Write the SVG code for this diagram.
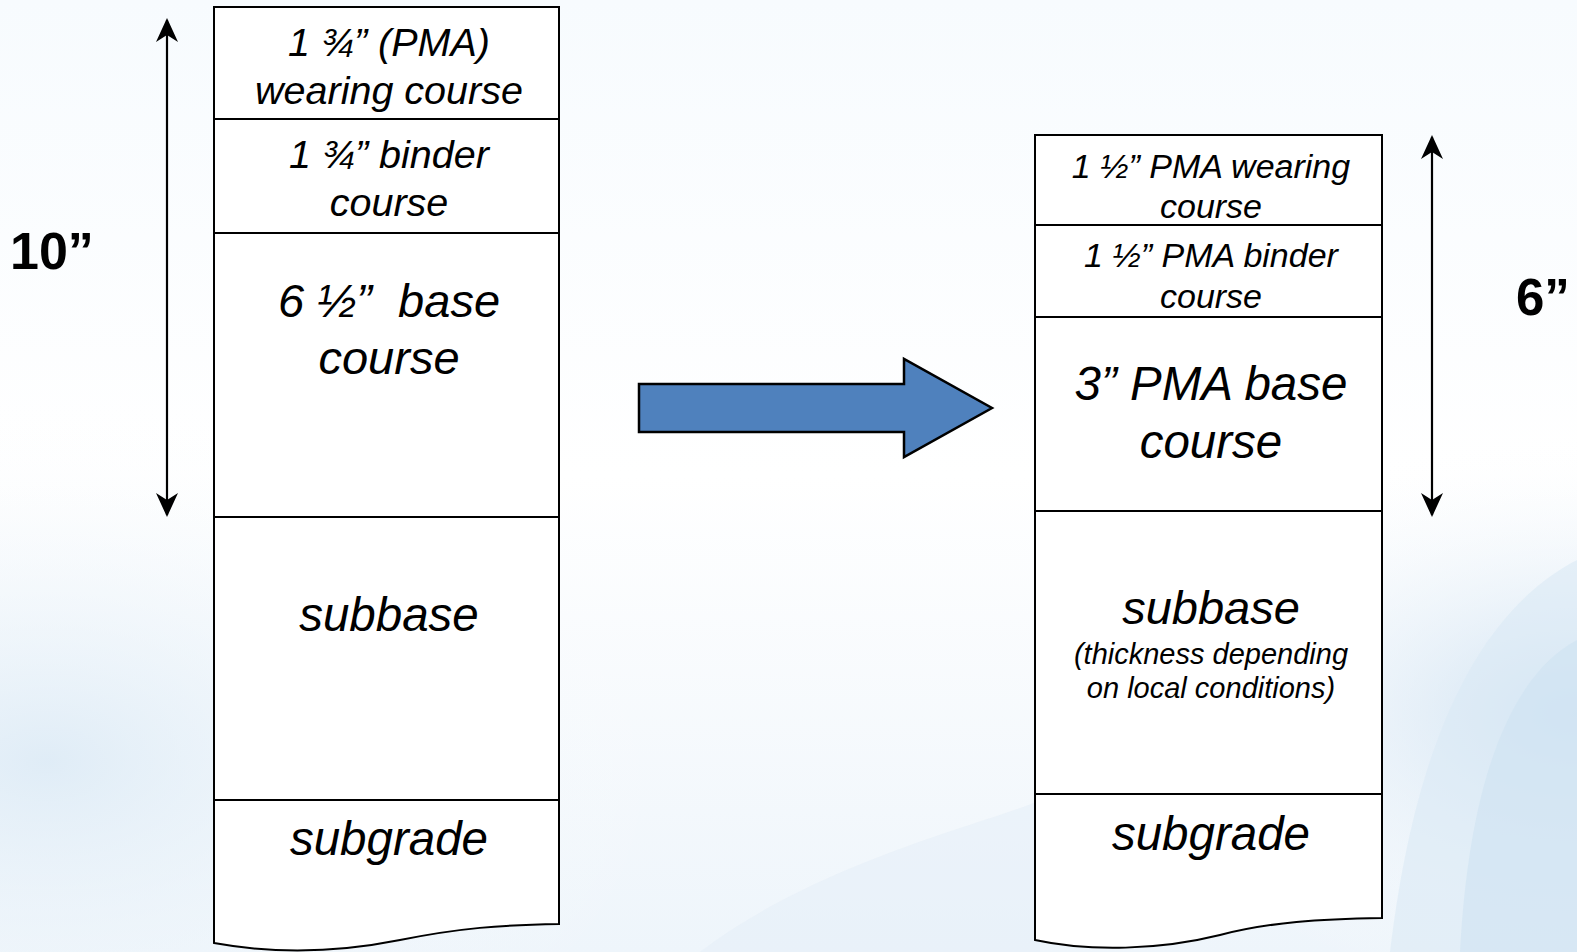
<svg xmlns="http://www.w3.org/2000/svg" width="1577" height="952" viewBox="0 0 1577 952">
<defs>
<style>
.col{fill:#fff;stroke:#000;stroke-width:2}
.div{stroke:#000;stroke-width:2.2;fill:none}
.t{font-family:"Liberation Sans",Arial,sans-serif;font-style:italic;fill:#000;text-anchor:middle}
.b{font-family:"Liberation Sans",Arial,sans-serif;font-weight:bold;fill:#000}
.dim{stroke:#000;stroke-width:2.2;fill:none}
</style>
<marker id="ah" viewBox="0 0 24 22" refX="22" refY="11" markerWidth="24" markerHeight="22" markerUnits="userSpaceOnUse" orient="auto-start-reverse">
<path d="M0,0 L24,11 L0,22 L7,11 Z" fill="#000"/>
</marker>
<linearGradient id="bg" x1="0" y1="0" x2="0" y2="1">
<stop offset="0" stop-color="#f7fbfe"/>
<stop offset="0.5" stop-color="#ffffff"/>
<stop offset="1" stop-color="#eef5fb"/>
</linearGradient>
<radialGradient id="bl" cx="0.03" cy="0.8" r="0.4">
<stop offset="0" stop-color="#dae9f5" stop-opacity="0.8"/>
<stop offset="1" stop-color="#ffffff" stop-opacity="0"/>
</radialGradient>
<radialGradient id="br" cx="1" cy="0.75" r="0.3">
<stop offset="0" stop-color="#c9def0" stop-opacity="0.9"/>
<stop offset="1" stop-color="#ffffff" stop-opacity="0"/>
</radialGradient>
</defs>
<rect width="1577" height="952" fill="url(#bg)"/>
<rect width="1577" height="952" fill="url(#bl)"/>
<rect width="1577" height="952" fill="url(#br)"/>
<path d="M1577,560 C1500,600 1420,700 1390,952 L1577,952 Z" fill="#dbe9f5" opacity="0.6"/>
<path d="M1577,640 C1520,670 1470,760 1460,952 L1577,952 Z" fill="#cfe2f2" opacity="0.6"/>
<path d="M700,952 C820,860 1000,820 1040,800 L1040,952 Z" fill="#e3eef8" opacity="0.5"/>

<g id="left-column">
<path class="col" d="M214,7 L559,7 L559,924 C500,925 460,928 400,940 C340,952 280,955 214,943 Z"/>
<line class="div" x1="214" y1="119" x2="559" y2="119"/>
<line class="div" x1="214" y1="233" x2="559" y2="233"/>
<line class="div" x1="214" y1="517" x2="559" y2="517"/>
<line class="div" x1="214" y1="800" x2="559" y2="800"/>
</g>
<g id="left-wearing"><text class="t" font-size="39.5" x="389" y="56">1 ¾” (PMA)</text><text class="t" font-size="39.5" x="389" y="104">wearing course</text></g>
<g id="left-binder"><text class="t" font-size="39.5" x="389" y="168">1 ¾” binder</text><text class="t" font-size="39.5" x="389" y="216">course</text></g>
<g id="left-base"><text class="t" font-size="47" x="389" y="317" xml:space="preserve">6 ½”  base</text><text class="t" font-size="47" x="389" y="374">course</text></g>
<g id="left-subbase"><text class="t" font-size="47.5" x="389" y="631">subbase</text></g>
<g id="left-subgrade"><text class="t" font-size="47.5" x="389" y="855">subgrade</text></g>

<g id="right-column">
<path class="col" d="M1035,135 L1382,135 L1382,918 C1320,919 1270,922 1220,935 C1160,950 1090,952 1035,940 Z"/>
<line class="div" x1="1035" y1="225" x2="1382" y2="225"/>
<line class="div" x1="1035" y1="317" x2="1382" y2="317"/>
<line class="div" x1="1035" y1="511" x2="1382" y2="511"/>
<line class="div" x1="1035" y1="794" x2="1382" y2="794"/>
</g>
<g id="right-wearing"><text class="t" font-size="34" x="1211" y="178">1 ½” PMA wearing</text><text class="t" font-size="34" x="1211" y="218">course</text></g>
<g id="right-binder"><text class="t" font-size="34" x="1211" y="267">1 ½” PMA binder</text><text class="t" font-size="34" x="1211" y="308">course</text></g>
<g id="right-base"><text class="t" font-size="47.5" x="1211" y="400">3” PMA base</text><text class="t" font-size="47.5" x="1211" y="458">course</text></g>
<g id="right-subbase"><text class="t" font-size="47" x="1211" y="624">subbase</text><text class="t" font-size="29" x="1211" y="664">(thickness depending</text><text class="t" font-size="29" x="1211" y="698">on local conditions)</text></g>
<g id="right-subgrade"><text class="t" font-size="47.5" x="1211" y="850">subgrade</text></g>

<g id="label-10"><text class="b" font-size="52" x="10" y="269">10”</text></g>
<g id="label-6"><text class="b" font-size="51" x="1516" y="315">6”</text></g>

<g id="connectors">
<line class="dim" x1="167" y1="20" x2="167" y2="515" marker-start="url(#ah)" marker-end="url(#ah)"/>
<line class="dim" x1="1432" y1="137" x2="1432" y2="515" marker-start="url(#ah)" marker-end="url(#ah)"/>
<path d="M639,384 L904,384 L904,359 L992,408 L904,457 L904,432 L639,432 Z" fill="#4f81bd" stroke="#000" stroke-width="2.5" stroke-linejoin="miter"/>
</g>
</svg>
